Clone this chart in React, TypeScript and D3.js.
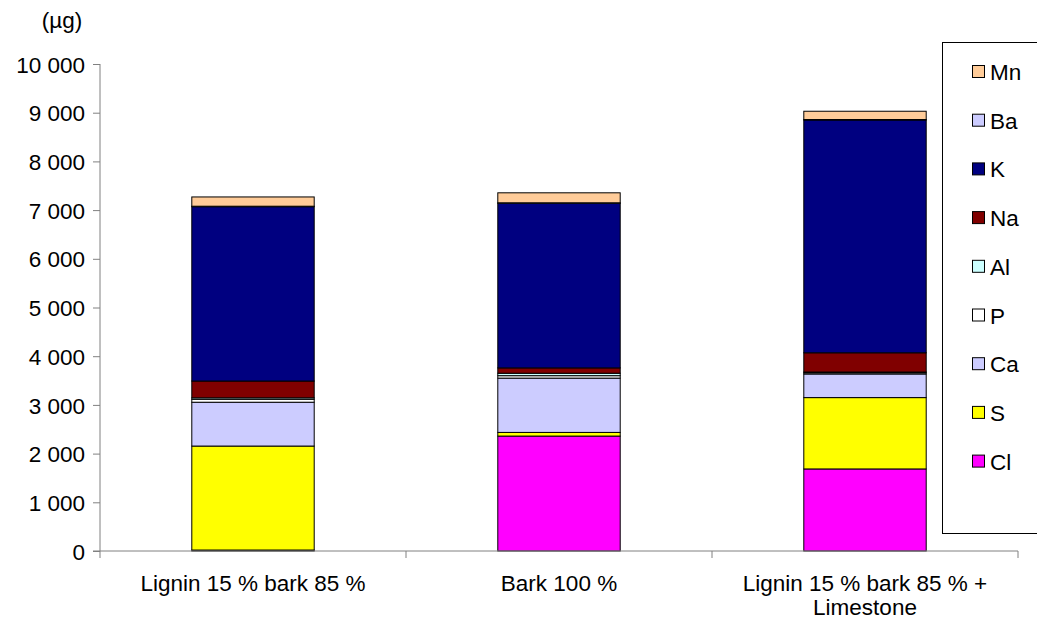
import { useEffect, useRef } from "react";
import * as d3 from "d3";

const categories = ["Lignin 15 % bark 85 %", "Bark 100 %", "Lignin 15 % bark 85 % + Limestone"];
const categoryLines = [["Lignin 15 % bark 85 %"], ["Bark 100 %"], ["Lignin 15 % bark 85 % +", "Limestone"]];
// stacked bottom -> top
const elements = ["Cl", "S", "Ca", "P", "Al", "Na", "K", "Ba", "Mn"];
const colors = ["#FF00FF", "#FFFF00", "#CCCCFF", "#FFFFFF", "#CCFFFF", "#800000", "#000080", "#CCCCFF", "#FFCC99"];
const Cl = [20, 2360, 1685];
const S = [2135, 75, 1465];
const Ca = [900, 1115, 485];
const P = [60, 50, 25];
const Al = [30, 50, 15];
const Na = [345, 110, 395];
const K = [3580, 3380, 4780];
const Ba = [10, 10, 10];
const Mn = [190, 205, 170];
const yTicks = [0, 1000, 2000, 3000, 4000, 5000, 6000, 7000, 8000, 9000, 10000];

const series = [Cl, S, Ca, P, Al, Na, K, Ba, Mn];

const App = () => {
    const ref = useRef<SVGSVGElement>(null);
    useEffect(() => {
        const svg = d3.select(ref.current);
        svg.selectAll("*").remove();
        const font = "'Liberation Sans', Arial, sans-serif";
        const fs = "22.5px";

        const x = d3.scaleBand()
            .domain(categories)
            .range([100, 1018])
            .paddingInner(0.6)
            .paddingOuter(0.3);
        const y = d3.scaleLinear()
            .domain([0, 10000])
            .range([551, 64]);

        const rows = categories.map((c, i) => {
            const r: any = { cat: c };
            elements.forEach((e, j) => { r[e] = series[j][i]; });
            return r;
        });
        const stacked = d3.stack().keys(elements)(rows);

        svg.append("g")
            .selectAll("g")
            .data(stacked)
            .enter()
            .append("g")
            .attr("fill", (d, i) => colors[i])
            .selectAll("rect")
            .data((d) => d)
            .enter()
            .append("rect")
                .attr("x", (d: any) => x(d.data.cat)!)
                .attr("width", x.bandwidth())
                .attr("y", (d) => y(d[1]))
                .attr("height", (d) => y(d[0]) - y(d[1]))
                .attr("stroke", "#000")
                .attr("stroke-width", 1);

        // y axis
        const yAxis = svg.append("g")
            .attr("transform", "translate(100,0)")
            .call(d3.axisLeft(y)
                .tickValues(yTicks)
                .tickSize(7)
                .tickPadding(8)
                .tickFormat((d) => d3.format(",")(d as number).replace(/,/g, " ")));
        yAxis.select(".domain").attr("stroke", "#808080").attr("d", "M0,64V551");
        yAxis.selectAll("line").attr("stroke", "#808080");
        yAxis.selectAll("text")
            .style("font-family", font)
            .style("font-size", fs)
            .attr("dy", "0.36em")
            .attr("fill", "#000");

        // x axis
        const xg = svg.append("g");
        xg.append("line")
            .attr("x1", 93).attr("x2", 1018)
            .attr("y1", y(0)).attr("y2", y(0))
            .attr("stroke", "#808080");
        const edges = [0, 1, 2, 3].map((k) => 100 + k * x.step());
        edges.forEach((e) => {
            xg.append("line")
                .attr("x1", e).attr("x2", e)
                .attr("y1", y(0)).attr("y2", y(0) + 7)
                .attr("stroke", "#808080");
        });
        categories.forEach((c, i) => {
            const t = xg.append("text")
                .attr("x", x(c)! + x.bandwidth() / 2)
                .attr("y", 591)
                .attr("text-anchor", "middle")
                .style("font-family", font)
                .style("font-size", fs);
            categoryLines[i].forEach((line, k) => {
                t.append("tspan")
                    .attr("x", x(c)! + x.bandwidth() / 2)
                    .attr("dy", k === 0 ? 0 : 24)
                    .text(line);
            });
        });

        svg.append("text")
            .attr("x", 62)
            .attr("y", 28)
            .attr("text-anchor", "middle")
            .style("font-family", font)
            .style("font-size", fs)
            .text("(µg)");

        // legend
        const lg = svg.append("g");
        lg.append("rect")
            .attr("x", 942.5).attr("y", 42.5)
            .attr("width", 110).attr("height", 491)
            .attr("fill", "#fff")
            .attr("stroke", "#000");
        const legendOrder = elements.slice().reverse();
        legendOrder.forEach((e, i) => {
            const cy = 72 + i * 48.7;
            lg.append("rect")
                .attr("x", 972.5).attr("y", cy - 6.5)
                .attr("width", 12).attr("height", 12)
                .attr("fill", colors[elements.indexOf(e)])
                .attr("stroke", "#000");
            lg.append("text")
                .attr("x", 990)
                .attr("y", cy + 8)
                .style("font-family", font)
                .style("font-size", fs)
                .text(e);
        });
    });
    return (
        <svg
            ref={ref}
            width={1037}
            height={621}
            style={{ position: "absolute", left: 0, top: 0, background: "#fff" }}
        />
    );
};

export default App;
